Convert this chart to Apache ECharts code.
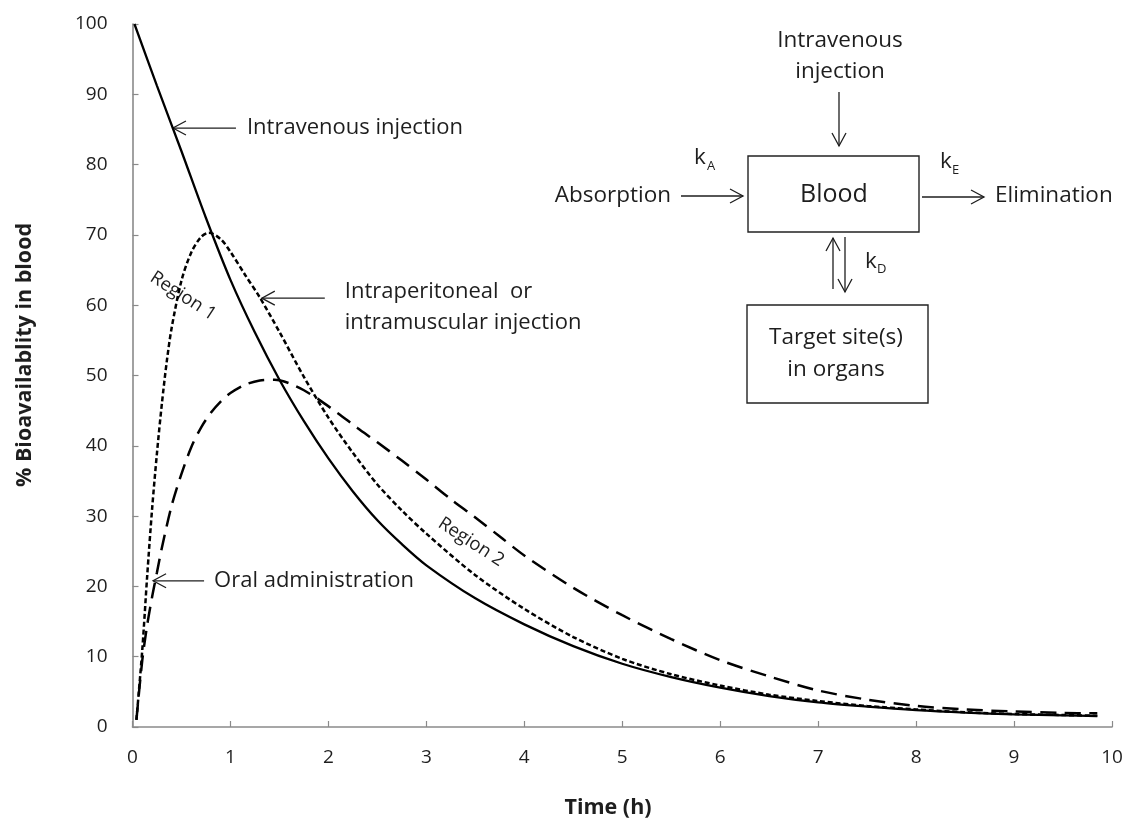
<!DOCTYPE html>
<html><head><meta charset="utf-8">
<script src="https://cdn.jsdelivr.net/npm/echarts@6/dist/echarts.min.js"></script>
<style>html,body{margin:0;padding:0;background:#fff}#c{width:1126px;height:825px}</style>
</head><body><div id="c"></div>
<script>
// ---- data ----
const ivTime  = [0.02,0.25,0.5,0.75,1.0,1.25,1.5,1.75,2.0,2.25,2.5,2.75,3.0,3.5,4,4.5,5,5.5,6,6.5,7,7.5,8,8.5,9,9.5,9.85];
const ivValue = [100,91.2,81.9,72.4,63.6,56.1,49.4,43.5,38.2,33.5,29.4,26.0,23.0,18.3,14.6,11.5,9.0,7.1,5.6,4.4,3.5,2.9,2.4,2.05,1.8,1.65,1.55];

const ipTime  = [0.04,0.1,0.15,0.2,0.25,0.3,0.35,0.4,0.5,0.6,0.7,0.78,0.9,1.0,1.15,1.3,1.5,1.75,2.0,2.25,2.5,2.75,3.0,3.5,4,4.5,5,5.5,6,6.5,7,7.5,8,8.5,9,9.5,9.85];
const ipValue = [1,11,21.5,31,39,46,52,56.8,63.5,67.5,69.7,70.3,69.4,67.6,64.3,61.1,56.2,49.8,44.0,39.0,34.5,30.8,27.5,21.6,16.8,12.8,9.7,7.5,5.9,4.6,3.7,3.0,2.5,2.1,1.85,1.7,1.6];

const oralTime  = [0.04,0.1,0.15,0.2,0.25,0.3,0.4,0.5,0.6,0.7,0.8,0.9,1.0,1.15,1.3,1.45,1.6,1.75,1.9,2.1,2.3,2.5,2.75,3.0,3.25,3.5,3.75,4.0,4.5,5,5.5,6,6.5,7,7.5,8,8.5,9,9.5,9.85];
const oralValue = [1,9.5,14.5,18.5,22,25.5,31.5,36,39.8,42.6,44.7,46.3,47.5,48.7,49.3,49.4,48.9,47.9,46.6,44.6,42.5,40.5,37.9,35.2,32.4,29.8,27.1,24.4,19.8,15.9,12.5,9.5,7.2,5.2,3.9,3.0,2.5,2.2,2.0,1.95];

const xTitle = 'Time (h)';
const yTitle = '% Bioavailablity in blood';

// annotation pointer targets (data coordinates)
const ivPointer   = [0.413, 85.2];
const ipPointer   = [1.32, 61.0];
const oralPointer = [0.21, 20.8];

const pair = (ts, vs) => ts.map((t, i) => [t, vs[i]]);

const FF = '"Open Sans", "Noto Sans", sans-serif';
const INK = '#1e1e1e';
const chart = echarts.init(document.getElementById('c'));

chart.setOption({
  animation: false,
  backgroundColor: '#fff',
  grid: { left: 132.5, right: 14, top: 24, bottom: 98, containLabel: false, outerBoundsMode: 'none' },
  xAxis: {
    type: 'value', min: 0, max: 10, interval: 1,
    axisLine: { show: true, onZero: false, lineStyle: { color: '#8a8a8a', width: 1.6 } },
    axisTick: { show: true, inside: true, length: 6, lineStyle: { color: '#8a8a8a', width: 1.2 } },
    splitLine: { show: false },
    axisLabel: { fontSize: 19, color: INK, fontFamily: FF, margin: 21 }
  },
  yAxis: {
    type: 'value', min: 0, max: 100, interval: 10,
    axisLine: { show: true, lineStyle: { color: '#8a8a8a', width: 1.6 } },
    axisTick: { show: true, inside: true, length: 6, lineStyle: { color: '#8a8a8a', width: 1.2 } },
    splitLine: { show: false },
    axisLabel: { fontSize: 19, color: INK, fontFamily: FF, margin: 25 }
  },
  series: [
    { name: 'Intravenous injection', type: 'line', data: pair(ivTime, ivValue), symbol: 'none', smooth: 0.3,
      lineStyle: { color: '#000', width: 2.3, type: 'solid' }, z: 3 },
    { name: 'Intraperitoneal or intramuscular injection', type: 'line', data: pair(ipTime, ipValue), symbol: 'none', smooth: 0.3,
      lineStyle: { color: '#000', width: 2.5, type: [5, 2.8] }, z: 2 },
    { name: 'Oral administration', type: 'line', data: pair(oralTime, oralValue), symbol: 'none', smooth: 0.3,
      lineStyle: { color: '#000', width: 2.5, type: [16, 8.5] }, z: 2 }
  ]
});

// ---- annotations ----
function arrow(x1, y1, x2, y2, head, spread) {
  head = head || 13; spread = spread || 7;
  const a = Math.atan2(y2 - y1, x2 - x1);
  const bx = x2 - head * Math.cos(a), by = y2 - head * Math.sin(a);
  const px = -Math.sin(a) * spread, py = Math.cos(a) * spread;
  const st = { stroke: INK, lineWidth: 1.3, fill: null };
  return [
    { type: 'line', silent: true, shape: { x1, y1, x2, y2 }, style: st },
    { type: 'polyline', silent: true, shape: { points: [[bx + px, by + py], [x2, y2], [bx - px, by - py]] }, style: st }
  ];
}
function txt(text, x, y, size, opts) {
  opts = opts || {};
  return {
    type: 'text', silent: true, x, y, rotation: opts.rotation || 0,
    style: { text, x: 0, y: 0, fill: INK, font: (opts.bold ? 'bold ' : '') + size + 'px ' + FF,
      textAlign: opts.align || 'left', textVerticalAlign: opts.valign || 'middle' }
  };
}
function box(x, y, w, h) {
  return { type: 'rect', silent: true, shape: { x, y, width: w, height: h }, style: { stroke: '#222', lineWidth: 1.4, fill: null } };
}

const g = [];
const px = p => chart.convertToPixel({ gridIndex: 0 }, p);
const ANN = 22;

const pIV = px(ivPointer);
g.push(...arrow(pIV[0] + 63, pIV[1], pIV[0], pIV[1]));
g.push(txt('Intravenous injection', pIV[0] + 74, pIV[1], ANN));

const pIP = px(ipPointer);
g.push(...arrow(pIP[0] + 63, pIP[1], pIP[0], pIP[1]));
g.push(txt('Intraperitoneal  or', pIP[0] + 83, pIP[1] - 6, ANN));
g.push(txt('intramuscular injection', pIP[0] + 83, pIP[1] + 25, ANN));

const pOral = px(oralPointer);
g.push(...arrow(pOral[0] + 51, pOral[1], pOral[0], pOral[1]));
g.push(txt('Oral administration', pOral[0] + 61, pOral[1], ANN));

g.push(txt('Region 1', 183, 296, 18.5, { align: 'center', rotation: -33 * Math.PI / 180 }));
g.push(txt('Region 2', 471, 542, 18.5, { align: 'center', rotation: -33 * Math.PI / 180 }));

// axis titles
g.push(txt(xTitle, 608, 808, 21.5, { bold: true, align: 'center' }));
g.push(txt(yTitle, 25, 355, 21.5, { bold: true, align: 'center', rotation: Math.PI / 2 }));

// compartment diagram
const DG = 22.5;
g.push(txt('Intravenous', 840, 41, DG, { align: 'center' }));
g.push(txt('injection', 840, 72, DG, { align: 'center' }));
g.push(...arrow(839, 92, 839, 146));
g.push(box(748, 156, 171, 76));
g.push(txt('Blood', 834, 195, 25, { align: 'center' }));
g.push(txt('Absorption', 671, 196, DG, { align: 'right' }));
g.push(...arrow(681, 196, 743, 196));
g.push(txt('k', 694, 158, DG));
g.push(txt('A', 707, 166, 13));
g.push(txt('k', 940, 162, DG));
g.push(txt('E', 952, 170, 13));
g.push(...arrow(922, 197, 984, 197));
g.push(txt('Elimination', 995, 196, DG));
g.push(...arrow(833, 289, 833, 238));
g.push(...arrow(845, 237, 845, 292));
g.push(txt('k', 865, 262, DG));
g.push(txt('D', 877, 269, 13));
g.push(box(747, 305, 181, 98));
g.push(txt('Target site(s)', 836, 338, DG, { align: 'center' }));
g.push(txt('in organs', 836, 370, DG, { align: 'center' }));

chart.setOption({ graphic: { elements: g } });
</script>
</body></html>
